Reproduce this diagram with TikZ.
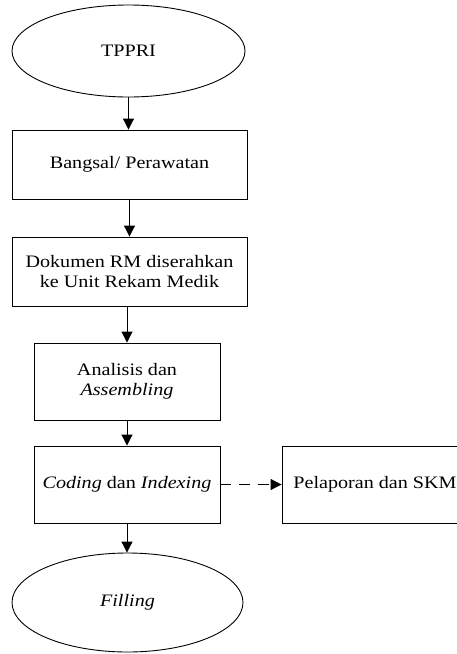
\documentclass[tikz,border=0pt]{standalone}
\usepackage{fontspec}
\setmainfont{Liberation Serif}[FakeStretch=1.15]
\usepackage{tikz}
\usetikzlibrary{shapes,arrows.meta}

\begin{document}
\begin{tikzpicture}[x=1pt,y=-1pt,
        font=\fontsize{17.5}{20}\selectfont,
        proc/.style={draw,line width=0.9pt,rectangle,inner sep=0pt,align=center},
        term/.style={draw,line width=0.9pt,ellipse,inner sep=0pt,align=center},
        flow/.style={line width=1pt,-{Triangle[width=11pt,length=11pt]}}]
        \useasboundingbox (0,0) rectangle (456,654);

        % Main column
        \node[term,minimum width=233pt,minimum height=92pt] (tppri) at (128.5,51) {TPPRI};
        \node[proc,minimum width=235pt,minimum height=69pt] (bangsal) at (129.5,164.5) {Bangsal/ Perawatan};
        \node[proc,minimum width=235pt,minimum height=69pt] (dokumen) at (129.5,271.5) {Dokumen RM diserahkan\\ke Unit Rekam Medik};
        \node[proc,minimum width=186pt,minimum height=77pt] (analisis) at (127,381.5) {Analisis dan\\\textit{Assembling}};
        \node[proc,minimum width=186pt,minimum height=77pt] (coding) at (127,484.5) {\textit{Coding} dan \textit{Indexing}};
        \node[term,minimum width=231pt,minimum height=99pt] (filling) at (127.5,602.5) {\textit{Filling}};

        % Side box
        \node[proc,minimum width=186pt,minimum height=77pt] (pelaporan) at (375,484.5) {Pelaporan dan SKM};

        \draw[flow] (tppri) -- (tppri |- bangsal.north);
        \draw[flow] (bangsal) -- (bangsal |- dokumen.north);
        \draw[flow] (dokumen.south -| analisis) -- (analisis.north);
        \draw[flow] (analisis) -- (coding);
        \draw[flow] (coding) -- (coding |- filling.north);
        \draw[flow,dash pattern=on 11pt off 8pt] (coding) -- (pelaporan);
    \end{tikzpicture}
\end{document}
